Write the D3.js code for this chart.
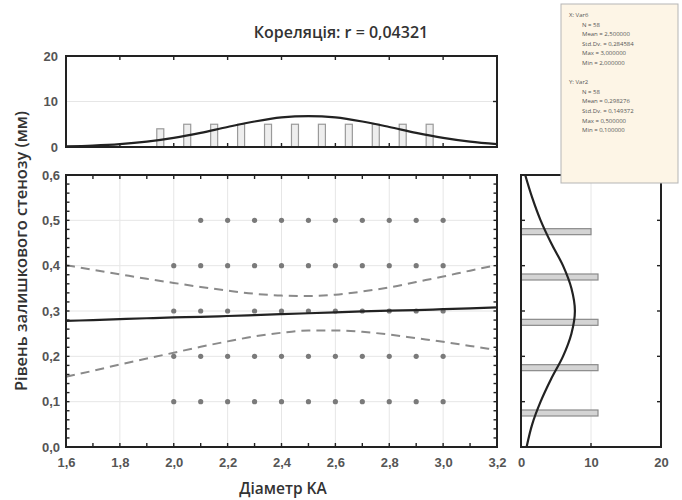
<!DOCTYPE html>
<html>
<head>
<meta charset="utf-8">
<script src="https://cdn.jsdelivr.net/npm/d3@7"></script>
<style>
  body { margin: 0; background: #fff; }
  svg { font-family: "Open Sans", sans-serif; }
  .tick text { fill: #555; font-size: 13px; font-weight: 600; }
</style>
</head>
<body>
<div id="chart"></div>
<script>
/** Scatterplot with marginal histograms, fitted normals and regression band. */

var titleText = "Кореляція: r = 0,04321";
var xLabel = "Діаметр KA";
var yLabel = "Рівень залишкового стенозу (мм)";

// scatter points (x: diameter, y: residual stenosis)
var pointX = [2.1, 2.2, 2.3, 2.4, 2.5, 2.6, 2.7, 2.8, 2.9, 3.0,
              2.0, 2.1, 2.2, 2.3, 2.4, 2.5, 2.6, 2.7, 2.8, 2.9, 3.0,
              2.0, 2.1, 2.2, 2.3, 2.4, 2.5, 2.6, 2.7, 2.8, 2.9, 3.0,
              2.0, 2.1, 2.2, 2.3, 2.4, 2.5, 2.6, 2.7, 2.8, 2.9, 3.0,
              2.0, 2.1, 2.2, 2.3, 2.4, 2.5, 2.6, 2.7, 2.8, 2.9, 3.0];
var pointY = [0.5, 0.5, 0.5, 0.5, 0.5, 0.5, 0.5, 0.5, 0.5, 0.5,
              0.4, 0.4, 0.4, 0.4, 0.4, 0.4, 0.4, 0.4, 0.4, 0.4, 0.4,
              0.3, 0.3, 0.3, 0.3, 0.3, 0.3, 0.3, 0.3, 0.3, 0.3, 0.3,
              0.2, 0.2, 0.2, 0.2, 0.2, 0.2, 0.2, 0.2, 0.2, 0.2, 0.2,
              0.1, 0.1, 0.1, 0.1, 0.1, 0.1, 0.1, 0.1, 0.1, 0.1, 0.1];

// regression line and confidence band, read at these x values
var bandX     = [1.6, 1.7, 1.8, 1.9, 2.0, 2.1, 2.2, 2.3, 2.4, 2.5, 2.6, 2.7, 2.8, 2.9, 3.0, 3.1, 3.2];
var fitY      = [0.278, 0.280, 0.282, 0.284, 0.286, 0.287, 0.289, 0.291, 0.293, 0.295, 0.297, 0.299, 0.301, 0.302, 0.304, 0.306, 0.308];
var upperY    = [0.401, 0.391, 0.381, 0.371, 0.362, 0.353, 0.345, 0.338, 0.334, 0.333, 0.336, 0.343, 0.352, 0.364, 0.376, 0.389, 0.401];
var lowerY    = [0.155, 0.168, 0.182, 0.195, 0.208, 0.221, 0.233, 0.244, 0.252, 0.257, 0.257, 0.254, 0.248, 0.240, 0.232, 0.223, 0.214];

// top histogram (x variable)
var xBins   = [1.95, 2.05, 2.15, 2.25, 2.35, 2.45, 2.55, 2.65, 2.75, 2.85, 2.95];
var xCounts = [4, 5, 5, 5, 5, 5, 5, 5, 5, 5, 5];
var xCurveX = [1.6, 1.7, 1.8, 1.9, 2.0, 2.1, 2.2, 2.3, 2.4, 2.5, 2.6, 2.7, 2.8, 2.9, 3.0, 3.1, 3.2];
var xCurveN = [0.13, 0.30, 0.62, 1.17, 2.0, 3.1, 4.4, 5.6, 6.5, 6.8, 6.5, 5.6, 4.4, 3.1, 2.0, 1.17, 0.62];

// right histogram (y variable)
var yBins   = [0.075, 0.175, 0.275, 0.375, 0.475];
var yCounts = [11, 11, 11, 11, 10];
var yCurveY = [0.0, 0.05, 0.1, 0.15, 0.2, 0.25, 0.3, 0.35, 0.4, 0.45, 0.5, 0.55, 0.6];
var yCurveN = [0.8, 1.6, 2.8, 4.3, 6.0, 7.2, 7.7, 7.2, 6.0, 4.3, 2.8, 1.6, 0.6];

var xTicks = [1.6, 1.8, 2.0, 2.2, 2.4, 2.6, 2.8, 3.0, 3.2];
var yTicks = [0.0, 0.1, 0.2, 0.3, 0.4, 0.5, 0.6];
var countTicks = [0, 10, 20];

var statsLines = ["X: Var6", "N = 58", "Mean = 2,500000", "Std.Dv. = 0,284584", "Max = 3,000000", "Min = 2,000000",
                  "", "Y: Var2", "N = 58", "Mean = 0,298276", "Std.Dv. = 0,149372", "Max = 0,500000", "Min = 0,100000"];

var W = 682, H = 500;
var main = {left: 66, right: 497, top: 175, bottom: 447};
var topH = {top: 56, bottom: 147};
var rightH = {left: 521, right: 661};

var comma = function(f) { return function(d) { return d3.format(f)(d).replace(".", ","); }; };

var svg = d3.select("#chart").append("svg")
    .attr("width", W).attr("height", H);

var x = d3.scaleLinear().domain([1.6, 3.2]).range([main.left, main.right]);
var y = d3.scaleLinear().domain([0, 0.6]).range([main.bottom, main.top]);
var cTop = d3.scaleLinear().domain([0, 20]).range([topH.bottom, topH.top]);
var cRight = d3.scaleLinear().domain([0, 20]).range([rightH.left, rightH.right]);

var gridColor = "#e6e6e6";

// ---- title
svg.append("text")
    .attr("x", 341).attr("y", 38)
    .attr("text-anchor", "middle")
    .attr("font-size", 16).attr("font-weight", 600).attr("fill", "#333")
    .text(titleText);

// ---- main plot grid
var gMain = svg.append("g");
gMain.selectAll(".vgrid").data(xTicks.slice(1, -1)).enter().append("line")
    .attr("x1", x).attr("x2", x).attr("y1", main.top).attr("y2", main.bottom)
    .attr("stroke", gridColor);
gMain.selectAll(".hgrid").data(yTicks.slice(1, -1)).enter().append("line")
    .attr("y1", y).attr("y2", y).attr("x1", main.left).attr("x2", main.right)
    .attr("stroke", gridColor);

// scatter points
gMain.selectAll(".pt").data(pointX).enter().append("circle")
    .attr("cx", function(d) { return x(d); })
    .attr("cy", function(d, i) { return y(pointY[i]); })
    .attr("r", 2.6).attr("fill", "#7a7a7a");

// band lines
var bandLine = function(arr) {
    return d3.line()
        .x(function(d, i) { return x(bandX[i]); })
        .y(function(d) { return y(d); })
        .curve(d3.curveMonotoneX)(arr);
};
[upperY, lowerY].forEach(function(arr) {
    gMain.append("path").attr("d", bandLine(arr))
        .attr("fill", "none").attr("stroke", "#8a8a8a")
        .attr("stroke-width", 2).attr("stroke-dasharray", "9,6");
});
gMain.append("path").attr("d", bandLine(fitY))
    .attr("fill", "none").attr("stroke", "#222").attr("stroke-width", 2.2);

// main axes
gMain.append("g").attr("transform", "translate(0," + main.bottom + ")")
    .call(d3.axisBottom(x).tickValues(xTicks).tickFormat(comma(".1f")).tickSize(0).tickPadding(11))
    .call(function(g) { g.select(".domain").remove(); });
gMain.append("g").attr("transform", "translate(" + main.left + ",0)")
    .call(d3.axisLeft(y).tickValues(yTicks).tickFormat(comma(".1f")).tickSize(0).tickPadding(6))
    .call(function(g) { g.select(".domain").remove(); });

// inward tick marks
var minorX = d3.range(16, 33).map(function(v) { return v / 10; });
var minorY = d3.range(0, 31).map(function(v) { return v / 50; });
[main.bottom, main.top].forEach(function(yy, k) {
    gMain.selectAll(null).data(minorX).enter().append("line")
        .attr("x1", x).attr("x2", x)
        .attr("y1", yy).attr("y2", yy + (k === 0 ? -4 : 4))
        .attr("stroke", "#222").attr("stroke-width", 1.4);
});
[main.left, main.right].forEach(function(xx, k) {
    gMain.selectAll(null).data(minorY).enter().append("line")
        .attr("y1", y).attr("y2", y)
        .attr("x1", xx).attr("x2", xx + (k === 0 ? 3.5 : -3.5))
        .attr("stroke", "#222").attr("stroke-width", 1.4);
});
gMain.append("rect")
    .attr("x", main.left).attr("y", main.top)
    .attr("width", main.right - main.left).attr("height", main.bottom - main.top)
    .attr("fill", "none").attr("stroke", "#222").attr("stroke-width", 2);

// axis titles
svg.append("text")
    .attr("x", 283).attr("y", 494)
    .attr("text-anchor", "middle").attr("font-size", 15.5).attr("font-weight", 600).attr("fill", "#333")
    .text(xLabel);
svg.append("text")
    .attr("transform", "translate(27,251) rotate(-90)")
    .attr("text-anchor", "middle").attr("font-size", 16.5).attr("font-weight", 600).attr("fill", "#333")
    .text(yLabel);

// ---- top histogram
var gTop = svg.append("g");
gTop.append("line")
    .attr("x1", main.left).attr("x2", main.right)
    .attr("y1", cTop(10)).attr("y2", cTop(10)).attr("stroke", gridColor);
gTop.selectAll(".xbar").data(xBins).enter().append("rect")
    .attr("x", function(d) { return x(d) - 3.5; })
    .attr("y", function(d, i) { return cTop(xCounts[i]); })
    .attr("width", 7)
    .attr("height", function(d, i) { return cTop(0) - cTop(xCounts[i]); })
    .attr("fill", "#eeeeee").attr("stroke", "#9a9a9a").attr("stroke-width", 1.2);
gTop.append("path")
    .attr("d", d3.line()
        .x(function(d, i) { return x(xCurveX[i]); })
        .y(function(d) { return cTop(d); })
        .curve(d3.curveMonotoneX)(xCurveN))
    .attr("fill", "none").attr("stroke", "#222").attr("stroke-width", 2.2);
gTop.append("g").attr("transform", "translate(" + main.left + ",0)")
    .call(d3.axisLeft(cTop).tickValues(countTicks).tickSize(0).tickPadding(8))
    .call(function(g) { g.select(".domain").remove(); });
var topTicks = xTicks.slice(1, -1);
[topH.top, topH.bottom].forEach(function(yy, k) {
    gTop.selectAll(null).data(topTicks).enter().append("line")
        .attr("x1", x).attr("x2", x)
        .attr("y1", yy).attr("y2", yy + (k === 0 ? 4 : -4))
        .attr("stroke", "#222").attr("stroke-width", 1.4);
});
gTop.append("line")
    .attr("x1", main.right).attr("x2", main.right - 4)
    .attr("y1", cTop(10)).attr("y2", cTop(10))
    .attr("stroke", "#222").attr("stroke-width", 1.4);
gTop.append("rect")
    .attr("x", main.left).attr("y", topH.top)
    .attr("width", main.right - main.left).attr("height", topH.bottom - topH.top)
    .attr("fill", "none").attr("stroke", "#222").attr("stroke-width", 2);

// ---- right histogram
var gRight = svg.append("g");
gRight.append("line")
    .attr("x1", cRight(10)).attr("x2", cRight(10))
    .attr("y1", main.top).attr("y2", main.bottom).attr("stroke", gridColor);
gRight.selectAll(".ybar").data(yBins).enter().append("rect")
    .attr("x", rightH.left)
    .attr("y", function(d) { return y(d) - 3; })
    .attr("width", function(d, i) { return cRight(yCounts[i]) - cRight(0); })
    .attr("height", 6)
    .attr("fill", "#d4d4d4").attr("stroke", "#8a8a8a").attr("stroke-width", 1.2);
gRight.append("path")
    .attr("d", d3.line()
        .x(function(d) { return cRight(d); })
        .y(function(d, i) { return y(yCurveY[i]); })
        .curve(d3.curveMonotoneY)(yCurveN))
    .attr("fill", "none").attr("stroke", "#222").attr("stroke-width", 2.2);
gRight.append("g").attr("transform", "translate(0," + main.bottom + ")")
    .call(d3.axisBottom(cRight).tickValues(countTicks).tickSize(0).tickPadding(11))
    .call(function(g) { g.select(".domain").remove(); });
var rightTicks = yTicks.slice(1, -1);
[rightH.left, rightH.right].forEach(function(xx, k) {
    gRight.selectAll(null).data(rightTicks).enter().append("line")
        .attr("y1", y).attr("y2", y)
        .attr("x1", xx).attr("x2", xx + (k === 0 ? 4 : -4))
        .attr("stroke", "#222").attr("stroke-width", 1.4);
});
gRight.append("line")
    .attr("x1", cRight(10)).attr("x2", cRight(10))
    .attr("y1", main.bottom).attr("y2", main.bottom - 4)
    .attr("stroke", "#222").attr("stroke-width", 1.4);
gRight.append("rect")
    .attr("x", rightH.left).attr("y", main.top)
    .attr("width", rightH.right - rightH.left).attr("height", main.bottom - main.top)
    .attr("fill", "none").attr("stroke", "#222").attr("stroke-width", 2);

// ---- stats box
var gBox = svg.append("g");
gBox.append("rect")
    .attr("x", 561).attr("y", 4).attr("width", 117).attr("height", 179)
    .attr("fill", "#fdf5e6").attr("stroke", "#b5b5b5").attr("stroke-width", 1);
gBox.selectAll(".stat").data(statsLines).enter().append("text")
    .attr("x", function(d, i) { return (i === 0 || i === 7) ? 569 : 582; })
    .attr("y", function(d, i) { return 17 + i * 9.6; })
    .attr("font-size", 6).attr("fill", "#555")
    .text(function(d) { return d; });
</script>
</body>
</html>
